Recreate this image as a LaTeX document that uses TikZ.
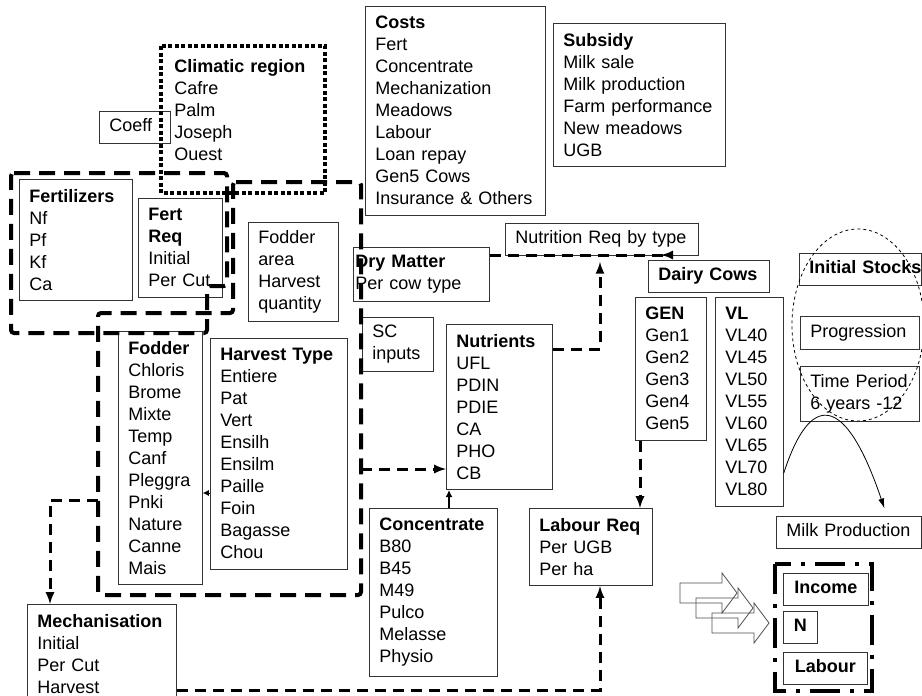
\documentclass[tikz,border=0pt]{standalone}
\usepackage{fontspec}
\setmainfont{Liberation Sans}
\usetikzlibrary{arrows,arrows.meta}

\begin{document}
\begin{tikzpicture}
[x=1pt,y=-1pt,
 listbox/.style={draw=black!80,line width=0.8pt,anchor=north west,align=left,
   inner xsep=10pt,inner ysep=10pt,font=\fontsize{18}{22}\selectfont},
 onebox/.style={listbox,inner ysep=7.5pt,text height=13pt,text depth=4pt},
 keybox/.style={onebox,align=center},
 conn/.style={line width=3pt,dash pattern=on 11pt off 7pt},
 zone/.style={line width=4pt,dash pattern=on 16pt off 9pt,rounded corners=3pt},
 dotzone/.style={line width=4pt,dash pattern=on 4pt off 2.5pt},
 dashdotzone/.style={line width=3.5pt,dash pattern=on 30pt off 10pt on 4pt off 10pt},
 link/.style={line width=1.5pt}]
\useasboundingbox (0,0) rectangle (922,696);

\node[onebox,text width=51pt] (coeff) at (99,111) {Coeff};
\node[listbox,draw=none,inner xsep=13pt,inner ysep=13pt,text width=138pt] (climatic) at (161,46)
{\textbf{Climatic region}\\Cafre\\Palm\\Joseph\\Ouest};
\node[listbox,text width=160pt] (costs) at (365,6)
{\textbf{Costs}\\Fert\\Concentrate\\Mechanization\\Meadows\\Labour\\Loan repay\\Gen5 Cows\\Insurance \& Others};
\node[listbox,text width=152pt] (subsidy) at (553,23)
{\textbf{Subsidy}\\Milk sale\\Milk production\\Farm performance\\New meadows\\UGB};

\node[listbox,text width=93pt] (fertilizers) at (19,179) {\textbf{Fertilizers}\\Nf\\Pf\\Kf\\Ca};
\node[listbox,text width=64pt] (fertreq) at (138,198) {\textbf{Fert}\\\textbf{Req}\\Initial\\Per Cut};
\node[listbox,inner ysep=8pt,text width=70pt] (fodderarea) at (248,222) {Fodder\\area\\Harvest\\quantity};

\node[onebox,text width=173pt] (nutrition) at (505,223) {Nutrition Req by type};
\node[listbox,inner xsep=2pt,inner ysep=8pt,text width=132pt] (drymatter) at (353,247)
{\textbf{Dry Matter}\\Per cow type};
\node[listbox,inner ysep=8pt,text width=51pt] (scinputs) at (362,317) {SC\\inputs};
\node[onebox,text width=101pt] (dairy) at (648,260) {\mbox{\textbf{Dairy Cows}}};
\node[onebox,text width=102pt] (stocks) at (799,253) {\mbox{\textbf{Initial Stocks}}};
\node[onebox,minimum height=33pt,text width=99pt] (progression) at (800,316) {Progression};
\node[listbox,inner ysep=8pt,text width=99pt] (timeperiod) at (800,366) {Time Period\\6 years -12};

\node[listbox,text width=64pt] (fodder) at (118,331)
{\textbf{Fodder}\\Chloris\\Brome\\Mixte\\Temp\\Canf\\Pleggra\\Pnki\\Nature\\Canne\\Mais};
\node[listbox,text width=117pt] (harvest) at (210,338)
{\textbf{Harvest Type}\\Entiere\\Pat\\Vert\\Ensilh\\Ensilm\\Paille\\Foin\\Bagasse\\Chou};
\node[listbox,text width=86pt] (nutrients) at (446,324)
{\textbf{Nutrients}\\UFL\\PDIN\\PDIE\\CA\\PHO\\CB};
\node[listbox,text width=51pt] (gen) at (635,297)
{\textbf{GEN}\\Gen1\\Gen2\\Gen3\\Gen4\\Gen5};
\node[listbox,text width=48pt] (vl) at (715,297)
{\textbf{VL}\\VL40\\VL45\\VL50\\VL55\\VL60\\VL65\\VL70\\VL80};
\node[listbox,text width=108pt] (concentrate) at (369,508)
{\textbf{Concentrate}\\B80\\B45\\M49\\Pulco\\Melasse\\Physio};
\node[listbox,text width=103pt] (labreq) at (529,508)
{\textbf{Labour Req}\\Per UGB\\Per ha};
\node[listbox,text width=129pt] (mech) at (27,604)
{\textbf{Mechanisation}\\Initial\\Per Cut\\Harvest};
\node[onebox,text width=125pt] (milk) at (776,516) {Milk Production};
\node[keybox,text width=65pt] (income) at (783,573) {\textbf{Income}};
\node[keybox,text width=14pt] (n) at (783,611) {\textbf{N}};
\node[keybox,text width=64pt] (labour) at (783,652) {\textbf{Labour}};

\draw[dotzone] (161,46) rectangle (325,193);
\draw[zone] (11,173) -- (227,173) -- (227,286) -- (207,286) -- (207,333) -- (11,333) -- cycle;
\draw[zone] (233,182) -- (361,182) -- (361,595) -- (98,595) -- (98,313) -- (233,313) -- cycle;
\draw[dashdotzone] (775,564) rectangle (872,691);
\draw[dashed,line width=0.8pt] (858,325) ellipse (66pt and 96pt);

\foreach \i in {0,1,2}
  \draw[black!70,line width=0.8pt,shift={(\i*16,\i*15)}]
    (680,583) -- (722,583) -- (722,573) -- (737,593) -- (722,613) -- (722,603) -- (680,603) -- cycle;

\coordinate (fodderzone) at (361,469);
\coordinate (fodderwest) at (98,500);
\coordinate (dairyin) at (673,255);

\draw [-{Latex[length=6pt,width=6pt]},line width=0.8pt] (harvest.west |- 0,493) -- (fodder.east |- 0,493);
\draw [-{Latex[length=7pt,width=7pt]},link] (concentrate.north -| 449,0) -- (nutrients.south -| 449,0);
\draw [-latex,conn] (gen.south -| 640,0) -- (labreq.north -| 640,0);
\draw [-latex,conn,shorten >=6pt] (nutrients.east |- 0,349) -- (600,349) -- (nutrition.south -| 600,0);
\draw [-latex reversed,conn] (drymatter.east |- dairyin) -- (dairyin);
\draw [-latex,conn] (fodderzone) -- (nutrients.west |- fodderzone);
\draw [-latex,conn] (fodderwest) -- (50,500) -- (mech.north -| 50,0);
\draw [-latex,conn] (mech.east |- 0,690) -- (600,690) -- (labreq.south -| 600,0);
\draw [-{Latex[length=10pt,width=6pt]},line width=0.8pt,shorten >=8pt] (vl.east |- 0,473) .. controls (810,392) and (845,392) .. (milk.north -| 887,0);
\end{tikzpicture}
\end{document}
